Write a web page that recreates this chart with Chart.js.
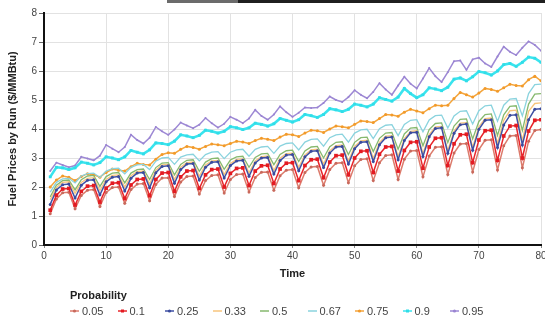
<!DOCTYPE html>
<html><head><meta charset="utf-8">
<script src="https://cdn.jsdelivr.net/npm/chart.js@4/dist/chart.umd.min.js"></script>
<style>
html,body{margin:0;padding:0;background:#fff;}
#wrap{position:relative;width:545px;height:319px;overflow:hidden;font-family:"Liberation Sans",Arial,sans-serif;background:#fff;}
#c{position:absolute;left:0;top:0;}
#bar1{position:absolute;left:167px;top:0;width:75px;height:3px;background:#6b6b6b;}
#bar2{position:absolute;left:238px;top:0;width:307px;height:3px;background:#1f1f1f;}
#lt{position:absolute;left:70px;top:289px;font-weight:bold;font-size:11px;color:#222;line-height:13px;}
.li{position:absolute;top:304px;height:14px;font-size:11px;color:#444;white-space:nowrap;display:flex;align-items:center;line-height:14px;}
.li svg{margin-right:3px;}
</style>
</head><body>
<div id="wrap">
<canvas id="c" width="545" height="319"></canvas>
<div id="bar1"></div><div id="bar2"></div>
<div id="lt">Probability</div>
<div id="legend"></div>
</div>
<script>
const times = [1,2,3,4,5,6,7,8,9,10,11,12,13,14,15,16,17,18,19,20,21,22,23,24,25,26,27,28,29,30,31,32,33,34,35,36,37,38,39,40,41,42,43,44,45,46,47,48,49,50,51,52,53,54,55,56,57,58,59,60,61,62,63,64,65,66,67,68,69,70,71,72,73,74,75,76,77,78,79,80];
const seriesNames = ["0.05","0.1","0.25","0.33","0.5","0.67","0.75","0.9","0.95"];

const p05 = [1.08,1.59,1.80,1.82, 1.25,1.71,1.89,1.91, 1.33,1.81,1.98,2.00, 1.44,1.91,2.10,2.12, 1.53,2.09,2.31,2.32, 1.67,2.17,2.36,2.38, 1.76,2.22,2.40,2.42, 1.79,2.26,2.43,2.45, 1.83,2.33,2.51,2.52, 1.89,2.39,2.58,2.60, 1.97,2.50,2.69,2.71, 2.06,2.60,2.82,2.84, 2.15,2.73,2.95,2.97, 2.22,2.84,3.09,3.11, 2.26,2.96,3.24,3.26, 2.35,3.07,3.37,3.39, 2.43,3.17,3.48,3.50, 2.52,3.29,3.61,3.63, 2.59,3.42,3.76,3.78, 2.66,3.58,3.95,3.98];
const p10 = [1.20,1.72,1.93,1.95, 1.38,1.85,2.03,2.05, 1.48,1.96,2.13,2.15, 1.60,2.07,2.26,2.28, 1.70,2.26,2.48,2.50, 1.85,2.35,2.55,2.57, 1.95,2.42,2.60,2.62, 2.00,2.47,2.64,2.66, 2.05,2.55,2.73,2.75, 2.12,2.62,2.82,2.84, 2.22,2.74,2.94,2.96, 2.32,2.86,3.08,3.10, 2.42,3.00,3.23,3.25, 2.50,3.13,3.38,3.40, 2.55,3.26,3.54,3.56, 2.65,3.38,3.68,3.70, 2.74,3.49,3.80,3.82, 2.84,3.62,3.94,3.96, 2.92,3.76,4.10,4.12, 3.00,3.93,4.30,4.32];
const p25 = [1.40,1.90,2.08,2.10, 1.62,2.06,2.23,2.25, 1.73,2.18,2.34,2.36, 1.86,2.30,2.48,2.50, 1.97,2.49,2.71,2.73, 2.13,2.60,2.79,2.81, 2.24,2.68,2.85,2.87, 2.31,2.74,2.90,2.92, 2.37,2.83,3.00,3.02, 2.45,2.91,3.10,3.12, 2.56,3.04,3.23,3.25, 2.67,3.17,3.38,3.40, 2.79,3.32,3.54,3.56, 2.88,3.46,3.70,3.72, 2.94,3.60,3.87,3.89, 3.05,3.73,4.02,4.04, 3.16,3.85,4.15,4.17, 3.27,3.99,4.30,4.32, 3.36,4.14,4.47,4.49, 3.45,4.32,4.68,4.70];
const p33 = [1.56,1.98,2.16,2.18, 1.78,2.16,2.30,2.32, 1.88,2.26,2.40,2.42, 2.00,2.39,2.53,2.55, 2.10,2.58,2.76,2.78, 2.26,2.68,2.84,2.86, 2.37,2.76,2.90,2.92, 2.43,2.81,2.95,2.97, 2.49,2.90,3.05,3.07, 2.57,2.99,3.15,3.17, 2.68,3.11,3.28,3.30, 2.79,3.25,3.43,3.45, 2.90,3.40,3.59,3.61, 2.99,3.54,3.75,3.77, 3.05,3.67,3.92,3.94, 3.16,3.81,4.07,4.09, 3.26,3.93,4.20,4.22, 3.37,4.08,4.36,4.38, 3.50,4.30,4.63,4.65, 3.60,4.61,4.88,4.90];
const p50 = [1.66,2.06,2.22,2.24, 1.90,2.25,2.38,2.40, 2.02,2.36,2.48,2.50, 2.14,2.48,2.60,2.62, 2.26,2.67,2.82,2.84, 2.42,2.78,2.92,2.94, 2.54,2.86,2.98,3.00, 2.61,2.93,3.04,3.06, 2.68,3.02,3.14,3.16, 2.77,3.12,3.25,3.27, 2.88,3.24,3.38,3.40, 3.00,3.39,3.54,3.56, 3.12,3.54,3.70,3.72, 3.22,3.68,3.86,3.88, 3.30,3.83,4.03,4.05, 3.42,3.98,4.19,4.21, 3.53,4.10,4.33,4.35, 3.66,4.26,4.50,4.52, 3.78,4.49,4.78,4.80, 3.95,4.86,5.20,5.22];
const p67 = [1.82,2.16,2.28,2.30, 2.14,2.38,2.46,2.48, 2.33,2.55,2.63,2.65, 2.45,2.68,2.76,2.78, 2.60,2.89,3.00,3.02, 2.78,3.03,3.11,3.13, 2.90,3.12,3.20,3.22, 2.98,3.20,3.28,3.30, 3.06,3.30,3.38,3.40, 3.16,3.41,3.50,3.52, 3.28,3.55,3.64,3.66, 3.41,3.70,3.80,3.82, 3.55,3.86,3.97,3.99, 3.67,4.01,4.13,4.15, 3.77,4.16,4.30,4.32, 3.90,4.31,4.46,4.48, 4.03,4.45,4.61,4.63, 4.17,4.63,4.80,4.82, 4.27,4.82,5.03,5.05, 4.45,5.22,5.53,5.55];
const p75 = [2.00,2.24,2.38,2.34, 2.22,2.36,2.46,2.42, 2.34,2.50,2.62,2.58, 2.55,2.70,2.82,2.78, 2.76,2.96,3.12,3.18, 3.16,3.30,3.40,3.36, 3.30,3.40,3.48,3.46, 3.42,3.50,3.58,3.55, 3.50,3.60,3.68,3.65, 3.60,3.72,3.82,3.80, 3.74,3.86,3.96,3.94, 3.88,4.00,4.10,4.08, 4.04,4.16,4.28,4.26, 4.22,4.36,4.50,4.48, 4.44,4.58,4.68,4.62, 4.56,4.70,4.82,4.80, 4.82,5.05,5.26,5.18, 5.10,5.24,5.40,5.36, 5.30,5.42,5.54,5.50, 5.48,5.70,5.82,5.66];
const p90 = [2.35,2.68,2.66,2.60, 2.66,2.86,2.82,2.76, 2.84,3.04,3.00,2.94, 3.04,3.26,3.20,3.14, 3.28,3.52,3.50,3.46, 3.58,3.80,3.76,3.70, 3.78,3.96,3.92,3.86, 3.92,4.08,4.04,3.98, 4.04,4.20,4.16,4.10, 4.18,4.36,4.30,4.24, 4.32,4.50,4.46,4.40, 4.50,4.70,4.66,4.60, 4.68,4.86,4.82,4.76, 4.86,5.08,5.02,4.96, 5.10,5.40,5.22,5.08, 5.18,5.42,5.38,5.32, 5.44,5.72,5.76,5.66, 5.80,5.98,5.94,5.86, 6.00,6.22,6.26,6.16, 6.30,6.48,6.44,6.30];
const p95 = [2.55,2.84,2.76,2.68, 2.74,3.04,2.98,2.92, 3.08,3.45,3.32,3.20, 3.38,3.80,3.62,3.50, 3.70,4.07,3.92,3.80, 3.98,4.22,4.12,4.03, 4.15,4.38,4.20,4.05, 4.18,4.42,4.32,4.20, 4.36,4.66,4.45,4.32, 4.50,4.78,4.58,4.42, 4.56,4.74,4.72,4.74, 4.90,5.12,5.00,4.93, 5.10,5.34,5.18,5.06, 5.28,5.58,5.36,5.18, 5.50,5.80,5.56,5.40, 5.74,6.10,5.82,5.62, 5.96,6.34,6.36,6.04, 6.40,6.46,6.26,6.14, 6.50,6.84,6.66,6.55, 6.80,7.02,6.90,6.70];

const seriesValues = [p05,p10,p25,p33,p50,p67,p75,p90,p95];
const lineColors = ["#dc7b6c","#e8262b","#3f50a4","#f7c57c","#86b96e","#8ad3de","#f4a53c","#3ae4ee","#9d88d4"];
const pointColors = ["#c8695c","#e31b22","#3a4a9c","#f7c57c","#86b96e","#8ad3de","#f29a2a","#30dde8","#9a84d2"];
const lineWidths = [1.5,1.5,1.5,1.3,1.3,1.3,1.5,2.6,1.5];
const pointRadii = [1.5,2.6,1.5,0,0,0,1.5,2.0,1.0];
const pointStyles = ["circle","rect","circle","circle","circle","circle","circle","rect","circle"];

const datasets = seriesNames.map((name,i)=>({
  label: name,
  data: times.map((t,j)=>({x:t,y:seriesValues[i][j]})),
  borderColor: lineColors[i],
  backgroundColor: pointColors[i],
  pointBackgroundColor: pointColors[i],
  pointBorderColor: pointColors[i],
  pointBorderWidth: 0,
  borderWidth: lineWidths[i],
  pointRadius: pointRadii[i],
  pointStyle: pointStyles[i],
  tension: 0,
  fill: false,
  order: i===1 ? 0 : (i===0 ? 1 : 2+i)
}));

new Chart(document.getElementById('c'), {
  type: 'line',
  data: { datasets },
  options: {
    responsive: false,
    devicePixelRatio: 1,
    animation: false,
    layout: { padding: { top: 13, right: 4, bottom: 38, left: 0 } },
    plugins: { legend: { display: false }, tooltip: { enabled: false } },
    scales: {
      x: {
        type: 'linear', min: 0, max: 80,
        ticks: { stepSize: 10, color: '#444', font: { family: 'Liberation Sans', size: 10 }, padding: 2, maxRotation: 0 },
        grid: { color: '#e2e2e2', lineWidth: 1, tickLength: 3, tickColor: '#888' },
        border: { display: true, color: '#111', width: 2 },
        title: { display: true, text: 'Time', color: '#222', font: { family: 'Liberation Sans', size: 11, weight: 'bold' }, padding: { top: 4, bottom: 0 } },
        afterFit: (s) => { s.height = 36; s.paddingLeft = 0; s.paddingRight = 0; }
      },
      y: {
        min: 0, max: 8,
        ticks: { stepSize: 1, color: '#444', font: { family: 'Liberation Sans', size: 10 }, padding: 2 },
        grid: { color: '#e2e2e2', lineWidth: 1, tickLength: 5, tickColor: '#666' },
        border: { display: true, color: '#111', width: 2 },
        title: { display: true, text: 'Fuel Prices by Run ($/MMBtu)', color: '#222', font: { family: 'Liberation Sans', size: 11, weight: 'bold' }, padding: { top: 6, bottom: 2 } },
        afterFit: (s) => { s.width = 44; }
      }
    }
  }
});

// HTML legend built from the series arrays
const leg = document.getElementById('legend');
seriesNames.forEach((name,i)=>{
  const d = document.createElement('div');
  d.className = 'li';
  d.style.left = (70 + i*47.5) + 'px';
  const dot = pointStyles[i]==='rect'
    ? `<rect x="3" y="2.5" width="3" height="3" fill="${pointColors[i]}"/>`
    : `<circle cx="4.5" cy="4" r="1.6" fill="${pointColors[i]}"/>`;
  d.innerHTML = `<svg width="9" height="8"><line x1="0" y1="4" x2="9" y2="4" stroke="${lineColors[i]}" stroke-width="1.5"/>${(pointRadii[i]>0?dot:'')}</svg><span>${name}</span>`;
  leg.appendChild(d);
});
</script>
</body></html>
